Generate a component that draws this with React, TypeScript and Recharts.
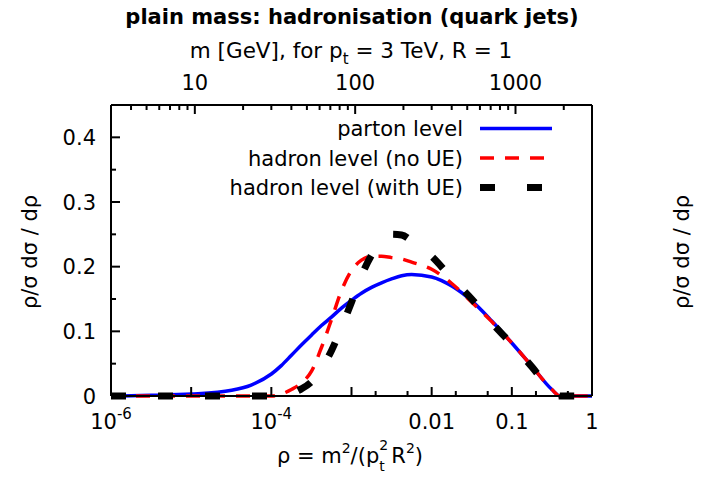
import { LineChart, Line, XAxis, YAxis } from "recharts";

// rho = m^2 / (pt^2 R^2), sampled on a log grid
const RHO = [
  1e-6, 3.2e-6, 1e-5, 3.2e-5, 5.6e-5, 1e-4, 1.33e-4, 1.78e-4, 2.37e-4, 3.16e-4,
  4.22e-4, 5.62e-4, 7.5e-4, 1e-3, 1.33e-3, 1.78e-3, 2.37e-3, 3.16e-3, 4.22e-3,
  5.62e-3, 0.01, 0.0178, 0.0316, 0.0562, 0.1, 0.178, 0.316, 0.4, 0.5, 1,
];

const PARTON = [
  0, 0.001, 0.003, 0.009, 0.017, 0.034, 0.047, 0.063, 0.079, 0.094, 0.109,
  0.122, 0.136, 0.148, 0.159, 0.168, 0.175, 0.181, 0.186, 0.188, 0.184, 0.17,
  0.147, 0.116, 0.082, 0.046, 0.01, 0, 0, 0,
];

const HADRON_NO_UE = [
  0, 0, 0, 0, 0, 0, 0.003, 0.01, 0.02, 0.038, 0.075, 0.118, 0.163, 0.194, 0.21,
  0.216, 0.216, 0.214, 0.212, 0.207, 0.196, 0.174, 0.145, 0.115, 0.082, 0.046,
  0.01, 0, 0, 0,
];

const HADRON_UE = [
  0, 0, 0, 0, 0, 0, 0.001, 0.004, 0.011, 0.022, 0.042, 0.07, 0.106, 0.145,
  0.186, 0.218, 0.24, 0.25, 0.249, 0.24, 0.216, 0.182, 0.15, 0.113, 0.08, 0.045,
  0.008, 0, 0, 0,
];

const X_TICKS = [1e-6, 1e-5, 1e-4, 1e-3, 2e-3, 5e-3, 0.01, 0.02, 0.05, 0.1, 0.2, 0.5, 1];
const X_MAJOR = [1e-6, 1e-5, 1e-4, 1e-3, 0.01, 0.1, 1];
const X_LABELS: Record<string, [string, string]> = {
  "0.000001": ["10", "-6"],
  "0.0001": ["10", "-4"],
  "0.01": ["0.01", ""],
  "0.1": ["0.1", ""],
  "1": ["1", ""],
};

const PT = 3000;
const R = 1;
const M_TICKS = [
  4, 5, 6, 7, 8, 9, 10, 20, 30, 40, 50, 60, 70, 80, 90, 100, 200, 300, 400, 500,
  600, 700, 800, 900, 1000, 2000,
];
const M_LABELS = [10, 100, 1000];

const Y_TICKS = [0, 0.05, 0.1, 0.15, 0.2, 0.25, 0.3, 0.35, 0.4];
const Y_LABELS = ["0", "0.1", "0.2", "0.3", "0.4"];

const SERIES = [
  { key: "parton", name: "parton level", values: PARTON, color: "#0000ff", width: 3.5, dash: undefined },
  { key: "noue", name: "hadron level (no UE)", values: HADRON_NO_UE, color: "#ff0000", width: 3.5, dash: "14 11" },
  { key: "ue", name: "hadron level (with UE)", values: HADRON_UE, color: "#000000", width: 7, dash: "15 32" },
];

const data = RHO.map((rho, i) => {
  const row: Record<string, number> = { rho };
  SERIES.forEach((s) => (row[s.key] = s.values[i]));
  return row;
});

const topTicks = M_TICKS.map((m) => (m / (PT * R)) ** 2);

const FONT = "DejaVu Sans";
const W = 702;
const H = 483;
// axes take 1px each, so the frame sits at x 111..592, y 105..396
const M = { top: 104, left: 110, right: 109, bottom: 86 };
const MAJOR_LEN = 9;
const MINOR_LEN = 5;

const mark = (d: string) => <path d={d} stroke="#000000" strokeWidth={2} fill="none" />;

function BottomTick(props: any) {
  const { x, y, payload } = props;
  const v = payload.value;
  const len = X_MAJOR.includes(v) ? MAJOR_LEN : MINOR_LEN;
  const lab = X_LABELS[String(v)];
  return (
    <g>
      {mark(`M${x},${y}V${y - len}`)}
      {lab && (
        <text x={x} y={y + 33} textAnchor="middle" fontFamily={FONT} fontSize={21} fill="#000">
          {lab[0]}
          {lab[1] && (
            <tspan dy={-10} fontSize={15}>
              {lab[1]}
            </tspan>
          )}
        </text>
      )}
    </g>
  );
}

function TopTick(props: any) {
  const { x, y, payload } = props;
  const m = Math.round(PT * R * Math.sqrt(payload.value));
  const major = M_LABELS.includes(m);
  return (
    <g>
      {mark(`M${x},${y}V${y + (major ? MAJOR_LEN : MINOR_LEN)}`)}
      {major && (
        <text x={x} y={y - 15} textAnchor="middle" fontFamily={FONT} fontSize={21} fill="#000">
          {m}
        </text>
      )}
    </g>
  );
}

function LeftTick(props: any) {
  const { x, y, index } = props;
  const major = index % 2 === 0;
  return (
    <g>
      {mark(`M${x},${y}H${x + (major ? MAJOR_LEN : MINOR_LEN)}`)}
      {major && (
        <text x={x - 15} y={y + 7.5} textAnchor="end" fontFamily={FONT} fontSize={21} fill="#000">
          {Y_LABELS[index / 2]}
        </text>
      )}
    </g>
  );
}

function RightTick(props: any) {
  const { x, y, index } = props;
  const major = index % 2 === 0;
  return <g>{mark(`M${x},${y}H${x - (major ? MAJOR_LEN : MINOR_LEN)}`)}</g>;
}

export default function App() {
  const axisLine = { stroke: "#000", strokeWidth: 2 };
  return (
    <div style={{ position: "absolute", left: 0, top: 0, width: W, height: H, background: "#fff" }}>
      <svg
        width={W}
        height={H}
        style={{ position: "absolute", left: 0, top: 0 }}
        fontFamily={FONT}
        fill="#000"
      >
        <text x={352} y={24} textAnchor="middle" fontSize={21} fontWeight="bold">
          plain mass: hadronisation (quark jets)
        </text>
        <text x={351} y={58} textAnchor="middle" fontSize={21.5}>
          m [GeV], for p
          <tspan dy={6} fontSize={15}>t</tspan>
          <tspan dy={-6}> = 3 TeV, R = 1</tspan>
        </text>
        <text x={350} y={463} textAnchor="middle" fontSize={21}>
          ρ = m
          <tspan dy={-10} fontSize={14}>2</tspan>
          <tspan dy={10}>/(p</tspan>
          <tspan dy={-13} fontSize={14}>2</tspan>
          <tspan dx={-9} dy={21} fontSize={14}>t</tspan>
          <tspan dy={-8}> R</tspan>
          <tspan dy={-10} fontSize={14}>2</tspan>
          <tspan dy={10}>)</tspan>
        </text>
        <text x={37} y={252} textAnchor="middle" fontSize={21} transform="rotate(-90 37 252)">
          ρ/σ dσ / dρ
        </text>
        <text x={689} y={252} textAnchor="middle" fontSize={21} transform="rotate(-90 689 252)">
          ρ/σ dσ / dρ
        </text>
        {SERIES.map((s, i) => {
          const ly = 128.5 + i * 29.5;
          return (
            <g key={s.key}>
              <text x={463} y={ly + 7.5} textAnchor="end" fontSize={21}>
                {s.name}
              </text>
              <line
                x1={480}
                x2={552}
                y1={ly}
                y2={ly}
                stroke={s.color}
                strokeWidth={s.width}
                strokeDasharray={s.dash}
              />
            </g>
          );
        })}
      </svg>
      <LineChart width={W} height={H} data={data} margin={M}>
        <XAxis
          dataKey="rho"
          type="number"
          scale="log"
          domain={[1e-6, 1]}
          ticks={X_TICKS}
          interval={0}
          height={1}
          tickSize={0}
          tickMargin={0}
          tickLine={false}
          axisLine={axisLine}
          tick={BottomTick}
        />
        <XAxis
          xAxisId="top"
          orientation="top"
          dataKey="rho"
          type="number"
          scale="log"
          domain={[1e-6, 1]}
          allowDataOverflow
          ticks={topTicks}
          interval={0}
          height={1}
          tickSize={0}
          tickMargin={0}
          tickLine={false}
          axisLine={axisLine}
          tick={TopTick}
        />
        <YAxis
          type="number"
          domain={[0, 0.45]}
          ticks={Y_TICKS}
          interval={0}
          width={1}
          tickSize={0}
          tickMargin={0}
          tickLine={false}
          axisLine={axisLine}
          tick={LeftTick}
        />
        <YAxis
          yAxisId="right"
          orientation="right"
          type="number"
          domain={[0, 0.45]}
          ticks={Y_TICKS}
          interval={0}
          width={1}
          tickSize={0}
          tickMargin={0}
          tickLine={false}
          axisLine={axisLine}
          tick={RightTick}
        />
        {SERIES.map((s) => (
          <Line
            key={s.key}
            dataKey={s.key}
            name={s.name}
            type="monotone"
            stroke={s.color}
            strokeWidth={s.width}
            strokeDasharray={s.dash}
            dot={false}
            isAnimationActive={false}
          />
        ))}
      </LineChart>
    </div>
  );
}
